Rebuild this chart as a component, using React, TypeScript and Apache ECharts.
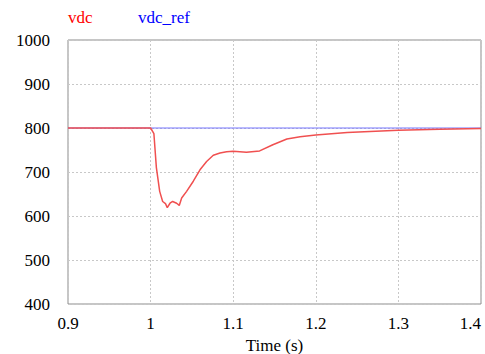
import React, { useEffect, useRef } from "react";
import * as echarts from "echarts";

const timeS = [0.9, 1.0, 1.004, 1.007, 1.011, 1.0146, 1.018, 1.0202, 1.0235, 1.0267, 1.0315, 1.0347, 1.0376, 1.0436, 1.0517, 1.0598, 1.0678, 1.0759, 1.084, 1.092, 1.1, 1.116, 1.132, 1.148, 1.165, 1.181, 1.2, 1.238, 1.3, 1.35, 1.4];
const vdc = [800, 800, 787, 710, 656, 633, 628, 619, 629, 633, 629, 624, 641, 656, 679, 705, 724, 738, 743, 746, 747, 745, 748, 762, 775, 780, 784, 790, 795, 797, 799];
const refTime = [0.9, 1.4];
const vdcRef = [800, 800];
const seriesNames = ["vdc", "vdc_ref"];
const xTitle = "Time (s)";

const FONT = "'Liberation Serif', 'Times New Roman', Times, serif";

export default function App() {
  const ref = useRef<HTMLDivElement>(null);
  useEffect(() => {
    document.body.style.margin = "0";
    const chart = echarts.init(ref.current!, null, { renderer: "svg" });
    chart.setOption({
      animation: false,
      textStyle: { fontFamily: FONT },
      grid: { left: 68, right: 4, top: 40, bottom: 50, show: true, borderColor: "#8c8c8c", borderWidth: 1, outerBoundsMode: "none", containLabel: false },
      graphic: [
        { type: "text", left: 68, top: 9, style: { text: seriesNames[0], fill: "#ff0000", fontSize: 17, fontFamily: FONT } },
        { type: "text", left: 138, top: 9, style: { text: seriesNames[1], fill: "#0000ff", fontSize: 17, fontFamily: FONT } },
      ],
      xAxis: {
        type: "value",
        min: 0.9,
        max: 1.4,
        interval: 0.1,
        name: xTitle,
        nameLocation: "middle",
        nameGap: 33,
        nameTextStyle: { color: "#000", fontSize: 17, fontFamily: FONT },
        axisLine: { show: false },
        axisTick: { show: false },
        axisLabel: { color: "#000", fontSize: 17, fontFamily: FONT, margin: 11, alignMaxLabel: "right", formatter: (v: number) => String(+v.toFixed(1)) },
        splitLine: { show: true, lineStyle: { color: "#c8c8c8", type: [2, 2], width: 1 } },
      },
      yAxis: {
        type: "value",
        min: 400,
        max: 1000,
        interval: 100,
        axisLine: { show: false },
        axisTick: { show: false },
        axisLabel: { color: "#000", fontSize: 17, fontFamily: FONT, margin: 18, formatter: (v: number) => String(v) },
        splitLine: { show: true, lineStyle: { color: "#c8c8c8", type: [2, 2], width: 1 } },
      },
      series: [
        {
          name: seriesNames[1],
          type: "line",
          data: refTime.map((t, i) => [t, vdcRef[i]]),
          showSymbol: false,
          lineStyle: { color: "#7474ff", width: 1 },
        },
        {
          name: seriesNames[0],
          type: "line",
          data: timeS.map((t, i) => [t, vdc[i]]),
          showSymbol: false,
          lineStyle: { color: "#f05050", width: 1.5 },
        },
      ],
    });
    return () => chart.dispose();
  }, []);
  return <div ref={ref} style={{ width: 485, height: 354 }} />;
}
